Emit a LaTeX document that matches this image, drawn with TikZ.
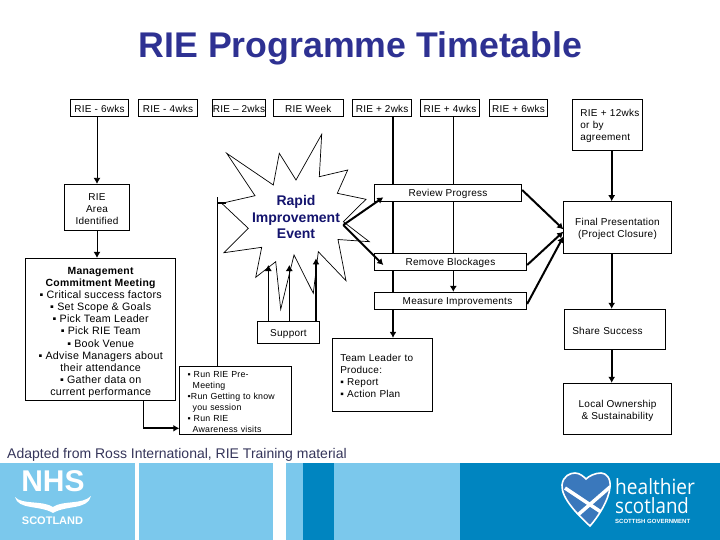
\documentclass[tikz,border=0pt]{standalone}
\usepackage{fontspec}
\usetikzlibrary{arrows.meta}
\setmainfont{Liberation Sans}
\newfontfamily\boxfont[LetterSpace=2.5]{Liberation Sans}
\newfontfamily\logofont{Open Sans}
\definecolor{titleblue}{HTML}{2E3192}
\definecolor{eventblue}{HTML}{14146E}
\definecolor{notegrey}{HTML}{35355A}
\definecolor{footlight}{HTML}{7BC8EC}
\definecolor{footdark}{HTML}{0085C0}
\definecolor{heartblue}{HTML}{3A78BC}
\newcommand{\fsize}[2]{\fontsize{#1}{#2}\selectfont}
\newcommand{\lift}[1]{\rule{0pt}{#1}}
\newcommand{\heartpath}{(590,526) .. controls (578,515) and (561,498) .. (562,485) .. controls (563,476) and (570,473) .. (575,473) .. controls (580,473) and (584,477) .. (586,479) .. controls (589,476) and (595,473) .. (601,473) .. controls (606,473) and (611,478) .. (610,487) .. controls (609,500) and (598,517) .. (590,526) -- cycle}
\tikzset{
  box/.style={draw,fill=white,line width=.9pt,inner sep=0pt,align=center,font=\boxfont\fsize{10}{12},execute at begin node={\rule{0pt}{9.5pt}}},
  leftbox/.style={box,align=left,inner xsep=8pt,text width=#1},
  link/.style={line width=.9pt},
  heavy/.style={line width=2pt},
  tip/.style={-{Latex[length=6pt,width=7pt]}},
}
\begin{document}
\begin{tikzpicture}[x=1pt,y=-1pt]
\useasboundingbox (0,0) rectangle (720,540);
% title
\node[font=\fsize{35.7}{40}\bfseries,text=titleblue,inner sep=0pt] (title) at (360.5,48.5) {RIE Programme Timetable};
% time line
\node[box,minimum width=58.4,minimum height=17.4] (tmsix) at (99.5,108) {RIE - 6wks};
\node[box,minimum width=59.4,minimum height=17.4] (tmfour) at (168,108) {RIE - 4wks};
\node[box,minimum width=53.4,minimum height=17.4] (tmtwo) at (239,108) {RIE – 2wks};
\node[box,minimum width=70,minimum height=17.4] (tweek) at (308.3,108) {RIE Week};
\node[box,minimum width=59,minimum height=17.4] (tpstwo) at (382.2,108) {RIE + 2wks};
\node[box,minimum width=59.4,minimum height=17.4] (tpfour) at (450,108) {RIE + 4wks};
\node[box,minimum width=58.4,minimum height=17.4] (tpsix) at (518.5,108) {RIE + 6wks};
\node[leftbox=54.4,minimum height=51] (tptwelve) at (607.5,124.8) {\mbox{RIE + 12wks}\\or by\\agreement};
% burst
\draw[fill=white,line width=.7pt] (226.7,153.3) -- (273.3,185) -- (279.3,153.3) -- (296,180) -- (321.7,134.3) -- (319.3,176.7) -- (347.7,170) -- (337.3,193.3) -- (366,199.3) -- (343.3,221.7) -- (369.3,241.7) -- (338,239.5) -- (346,280.7) -- (318.3,251.7) -- (313.3,293.3) -- (294,255) -- (280.7,309.3) -- (275.7,261.7) -- (255.7,277.3) -- (261.7,247.3) -- (224,252.7) -- (248.3,228.3) -- (221.7,203.3) -- (255,195.7) -- cycle;
\node[font=\fsize{14}{16.5}\bfseries,text=eventblue,align=center,inner sep=0pt] (rapid) at (296,217) {Rapid\\Improvement\\Event};
% left column
\node[box,minimum width=65.4,minimum height=46] (area) at (97,207.3) {\lift{9.5pt}RIE\\Area\\Identified};
\node[box,minimum width=150,minimum height=142,font=\boxfont\fsize{10.7}{12.1}] (mgmt) at (100.7,329.3) {\lift{13.5pt}{\fsize{10.4}{12.1}\textbf{Management}}\\{\fsize{10.4}{12.1}\textbf{Commitment Meeting}}\\▪ Critical success factors\\▪ Set Scope \& Goals\\▪ Pick Team Leader\\▪ Pick RIE Team\\▪ Book Venue\\▪ Advise Managers about\\their attendance\\▪ Gather data on\\current performance};
\node[leftbox=96,minimum height=68,font=\boxfont\fsize{8.8}{11}] (pre) at (235.7,400.3) {▪ Run RIE Pre-\\\hspace*{5pt}Meeting\\•Run Getting to know\\\hspace*{5pt}you session\\▪ Run RIE\\\hspace*{5pt}Awareness visits};
\node[box,minimum width=62.4,minimum height=22.7] (support) at (288.5,332.3) {Support};
% middle column
\node[box,minimum width=147.4,minimum height=17] (review) at (448,192.8) {Review Progress};
\node[box,minimum width=152.4,minimum height=17] (remove) at (450.5,261.8) {Remove Blockages};
\node[box,minimum width=152.4,minimum height=17] (measure) at (450.5,300.8) {\hspace*{14pt}Measure Improvements};
\node[leftbox=84.4,minimum height=73.4] (team) at (382.5,375) {\lift{9.5pt}Team Leader to\\Produce:\\▪ Report\\▪ Action Plan};
% right column
\node[box,minimum width=108.4,minimum height=51.6] (final) at (617.5,227.5) {\lift{9.5pt}Final Presentation\\(Project Closure)};
\node[leftbox=85.4,minimum height=40] (share) at (615,329.3) {Share Success};
\node[box,minimum width=108.4,minimum height=51] (local) at (617.5,408.8) {\lift{10.5pt}Local Ownership\\\& Sustainability};
% named ends of the connectors
\coordinate (premid) at (143.3,428.3);
\coordinate (preup) at (217.7,196.7);
\coordinate (burstleft) at (226,203);
\coordinate (burstright) at (343.3,225);
\coordinate (reviewin) at (383.3,197.3);
\coordinate (removein) at (383.3,265);
\coordinate (twoline) at (393,150);
\coordinate (fourline) at (453.3,150);
\coordinate (finalone) at (563.3,229.3);
\coordinate (finaltwo) at (563.3,231.7);
\coordinate (finalthree) at (563.3,236.7);
\coordinate (supportone) at (268.3,265);
\coordinate (supporttwo) at (289.3,265);
\coordinate (supportthree) at (316,258.3);
% connectors
\draw[link,tip] (tmsix.south -| area.north) -- (area.north);
\draw[link,tip] (area.south) -- (area.south |- mgmt.north);
\draw[link] (premid |- mgmt.south) -- (premid);
\draw[heavy,tip] (premid) -- (premid -| pre.west);
\draw[link] (preup |- pre.north) -- (preup);
\draw[heavy] (preup |- burstleft) -- (burstleft);
\draw[heavy,tip] (burstright) -- (reviewin);
\draw[heavy,tip] (burstright) -- (removein);
\draw[link,tip] (supportone |- support.north) -- (supportone);
\draw[link,tip] (supporttwo |- support.north) -- (supporttwo);
\draw[heavy,tip] (supportthree |- support.north) -- (supportthree);
\draw[heavy] (twoline |- tpstwo.south) -- (twoline |- review.north);
\draw[heavy] (twoline |- review.south) -- (twoline |- remove.north);
\draw[heavy] (twoline |- remove.south) -- (twoline |- measure.north);
\draw[heavy,tip] (twoline |- measure.south) -- (twoline |- team.north);
\draw[link] (fourline |- tpfour.south) -- (fourline |- review.north);
\draw[link] (fourline |- review.south) -- (fourline |- remove.north);
\draw[link,tip] (fourline |- remove.south) -- (fourline |- measure.north);
\draw[heavy,tip] (review.east |- 0,190) -- (finalone);
\draw[heavy,tip] (remove.east |- 0,265) -- (finaltwo);
\draw[heavy,tip] (measure.east |- 0,304) -- (finalthree);
\draw[heavy,tip] (tptwelve.south -| 611.7,0) -- (final.north -| 611.7,0);
\draw[heavy,tip] (final.south -| 611.7,0) -- (share.north -| 611.7,0);
\draw[heavy,tip] (share.south -| 611.7,0) -- (local.north -| 611.7,0);
\node[anchor=base west,inner sep=0pt,font=\fsize{14}{16},text=notegrey] (note) at (7,458) {Adapted from Ross International, RIE Training material};
% footer
\fill[footlight] (0,463) rectangle (135,540);
\fill[footlight] (139,463) rectangle (273,540);
\fill[footlight] (286,463) rectangle (303,540);
\fill[footdark] (303,463) rectangle (334,540);
\fill[footlight] (334,463) rectangle (460,540);
\fill[footdark] (460,463) rectangle (720,540);
% NHS logo
\node[font=\fsize{30}{32}\bfseries,text=white,inner sep=0pt] (nhs) at (53,481) {NHS};
\fill[white] (15,497) .. controls (22,505) and (42,500) .. (53,507) .. controls (63,500) and (82,505) .. (91,496) .. controls (88,510) and (66,505) .. (53,513) .. controls (40,505) and (18,510) .. (15,497) -- cycle;
\node[font=\fsize{11}{12}\bfseries,text=white,inner sep=0pt] (scot) at (52.5,520.5) {SCOTLAND};
% heart logo
\fill[heartblue] \heartpath;
\begin{scope}
\clip \heartpath;
\draw[white,line width=3.5pt] (565,488) -- (607,516);
\draw[white,line width=3.5pt] (610,487) -- (572,520);
\end{scope}
\draw[white,line width=1.6pt] \heartpath;
\node[anchor=base west,inner sep=0pt,font=\logofont\fsize{21}{22},text=white,xscale=.91,transform shape] (healthier) at (615,494) {healthier};
\node[anchor=base west,inner sep=0pt,font=\logofont\fsize{21}{22},text=white,xscale=.89,transform shape] (scotland) at (615,513) {scotland};
\node[anchor=base west,inner sep=0pt,font=\fsize{6}{7}\bfseries,text=white] (gov) at (615,523.5) {SCOTTISH GOVERNMENT};
\end{tikzpicture}
\end{document}
